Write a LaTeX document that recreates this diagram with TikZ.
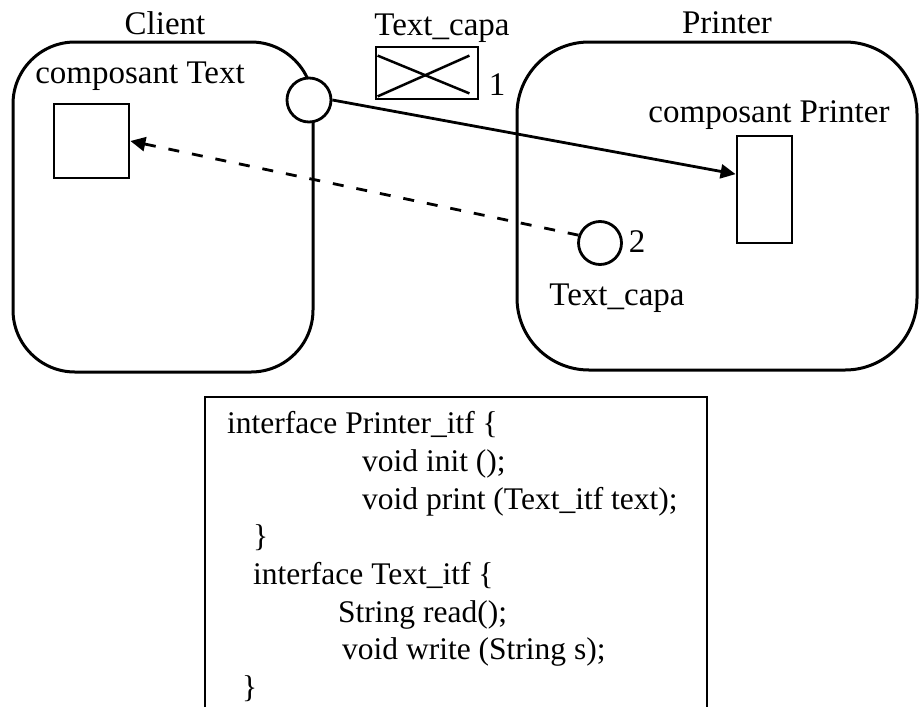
\documentclass[tikz,border=0pt]{standalone}
\usepackage{fontspec}
\setmainfont{Liberation Serif}
\usetikzlibrary{arrows.meta,calc}
\begin{document}
\begin{tikzpicture}[x=1pt,y=-1pt,
  every node/.style={font=\fontsize{33}{38}\selectfont, inner sep=0pt},
  compbox/.style={draw, line width=3pt, rounded corners=62pt},
  part/.style={draw, line width=2.8pt},
  port/.style={draw, circle, line width=2.8pt},
  lbl/.style={anchor=base},
  code/.style={anchor=base west, font=\fontsize{31.5}{37}\selectfont},
  tip/.style={-{Triangle[length=15pt,width=14pt]}}]
\useasboundingbox (0,0) rectangle (920,707);
% components
\node[compbox, minimum width=300pt, minimum height=330pt] (client) at (163,207) {};
\node[compbox, rounded corners=72pt, minimum width=400pt, minimum height=328pt] (printer) at (717,206) {};
\node[lbl] (clientlbl) at (165,34) {Client};
\node[lbl] (printerlbl) at (727,33) {Printer};
\node[lbl] (ctext) at (140,83) {composant Text};
\node[lbl] (cprinter) at (769,122) {composant Printer};
% parts
\node[part, minimum width=75pt, minimum height=74pt] (sq) at (91.5,141) {};
\node[part, minimum width=55pt, minimum height=107pt] (prect) at (764.5,189.5) {};
\node[port, minimum size=44pt, fill=white] (port) at (309,100) {};
% Text_capa 1
\node[lbl] (capa1) at (442,35) {Text\_capa};
\node[part, minimum width=102pt, minimum height=52pt] (xbox) at (427,73) {};
\draw[line width=2.5pt] ($(xbox.north west)+(3,10)$) -- ($(xbox.south east)+(-10,-7)$);
\draw[line width=2.5pt] ($(xbox.south west)+(3,-4)$) -- ($(xbox.north east)+(-10,10)$);
\node[lbl] (one) at (497,95) {1};
% Text_capa 2
\node[port, minimum size=43pt] (cap2) at (600,243) {};
\node[lbl] (two) at (637,252) {2};
\node[lbl] (capa2) at (617,305) {Text\_capa};
% connectors
\draw[line width=2.8pt, tip] (port.east) -- ($(prect.north west)!0.36!(prect.south west)$);
\draw[line width=2.8pt, dash pattern=on 11pt off 13pt, tip] (cap2.160) -- (sq.east);
% code box
\coordinate (cbl) at (205,707);
\coordinate (ctl) at (205,397);
\coordinate (ctr) at (707,397);
\coordinate (cbr) at (707,707);
\draw[line width=2pt] (cbl) -- (ctl) -- (ctr) -- (cbr);
\node[code] (l1) at (227,433) {interface Printer\_itf \{};
\node[code] (l2) at (362,471) {void init ();};
\node[code] (l3) at (362,509) {void print (Text\_itf text);};
\node[code] (l4) at (253,546) {\}};
\node[code] (l5) at (253,584) {interface Text\_itf \{};
\node[code] (l6) at (338,622) {String read();};
\node[code] (l7) at (342,659) {void write (String s);};
\node[code] (l8) at (242,697) {\}};
\end{tikzpicture}
\end{document}
